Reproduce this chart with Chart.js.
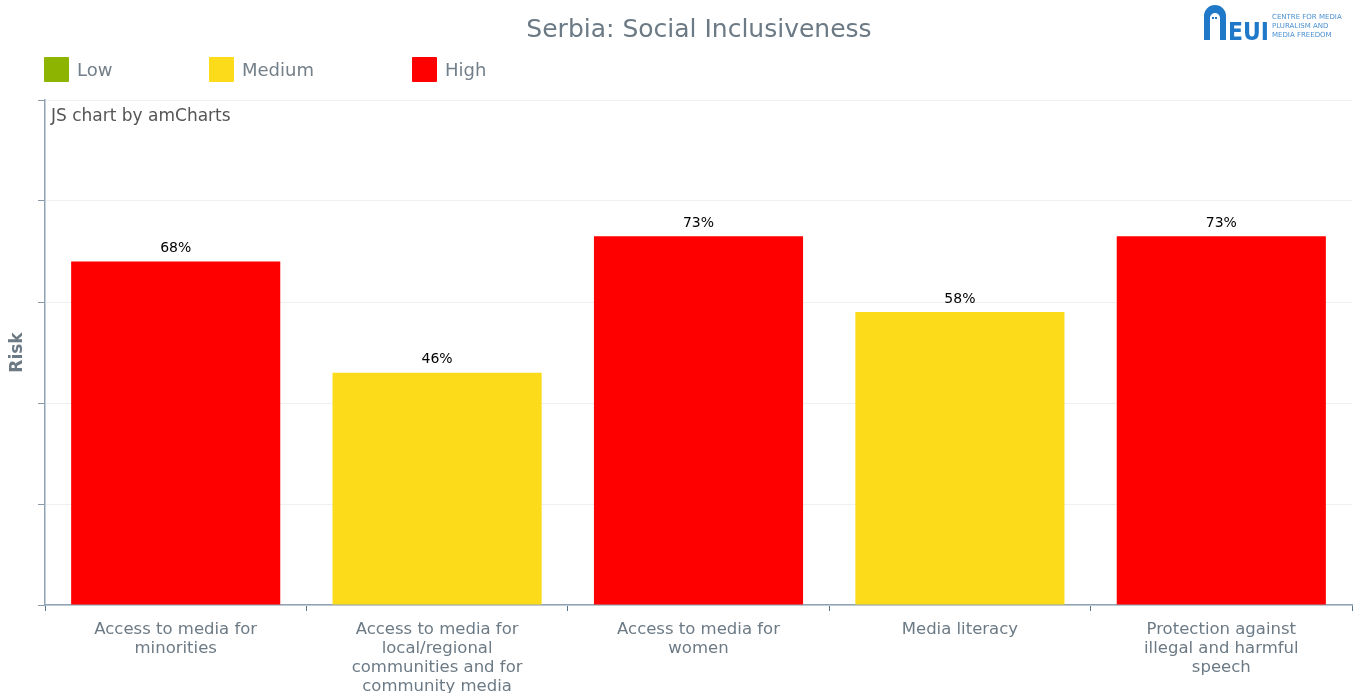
<!DOCTYPE html>
<html>
<head>
<meta charset="utf-8">
<script src="https://cdn.jsdelivr.net/npm/chart.js@4/dist/chart.umd.min.js"></script>
<style>
  html,body{margin:0;padding:0;background:#fff;width:1370px;height:693px;overflow:hidden;font-family:"DejaVu Sans",Verdana,sans-serif;}
  #wrap{position:absolute;left:0;top:0;width:1370px;height:693px;}
  #title{position:absolute;left:0;width:1398px;top:14px;text-align:center;font-size:25px;color:#6c7a85;}
  .leg{position:absolute;top:56px;height:26px;display:flex;align-items:center;font-size:18px;color:#737f89;}
  .leg span.box{display:inline-block;width:25px;height:25px;margin-right:8px;border-radius:1px;}
  #credit{position:absolute;left:51px;top:105px;font-size:17px;color:#555;}
  #logo{position:absolute;left:1202px;top:2px;width:168px;height:42px;}
</style>
</head>
<body>
<div id="wrap">
  <canvas id="c" width="1370" height="693"></canvas>
  <div id="title">Serbia: Social Inclusiveness</div>
  <div id="legend"></div>
  <div id="credit">JS chart by amCharts</div>
  <svg id="logo" viewBox="0 0 168 42" xmlns="http://www.w3.org/2000/svg">
    <path d="M2 38 V14 A11 11 0 0 1 24 14 V38 H18 V16 A5 5 0 0 0 8 16 V38 Z" fill="#1f78c8"/>
    <rect x="10" y="15" width="2" height="2" fill="#1f78c8"/><rect x="13" y="15" width="2" height="2" fill="#1f78c8"/>
    <text x="26" y="38" font-family="DejaVu Sans" font-weight="bold" font-size="25" fill="#1f78c8" textLength="41" lengthAdjust="spacingAndGlyphs">EUI</text>
    <text x="70" y="17" font-family="DejaVu Sans" font-size="7" fill="#4a90d0">CENTRE FOR MEDIA</text>
    <text x="70" y="26" font-family="DejaVu Sans" font-size="7" fill="#4a90d0">PLURALISM AND</text>
    <text x="70" y="35" font-family="DejaVu Sans" font-size="7" fill="#4a90d0">MEDIA FREEDOM</text>
  </svg>
</div>
<script>
const categories = [
  ["Access to media for","minorities"],
  ["Access to media for","local/regional","communities and for","community media"],
  ["Access to media for","women"],
  ["Media literacy"],
  ["Protection against","illegal and harmful","speech"]
];
const riskValues = [68, 46, 73, 58, 73];
const riskLevels = ["High", "Medium", "High", "Medium", "High"];
const legendNames = ["Low", "Medium", "High"];
const legendColors = ["#8cb400", "#fcdb1a", "#ff0000"];
const yTicks = [0, 20, 40, 60, 80, 100];

const levelColor = l => legendColors[legendNames.indexOf(l)];

// HTML legend
const legPos = [44, 209, 412];
const legEl = document.getElementById('legend');
legendNames.forEach((n, i) => {
  const d = document.createElement('div');
  d.className = 'leg';
  d.style.left = legPos[i] + 'px';
  d.innerHTML = '<span class="box" style="background:' + legendColors[i] + '"></span>' + n;
  legEl.appendChild(d);
});

const valueLabels = {
  id: 'valueLabels',
  afterDatasetsDraw(chart) {
    const ctx = chart.ctx;
    const meta = chart.getDatasetMeta(0);
    ctx.save();
    ctx.font = '14px "DejaVu Sans"';
    ctx.fillStyle = '#000';
    ctx.textAlign = 'center';
    ctx.textBaseline = 'bottom';
    meta.data.forEach((bar, i) => {
      ctx.fillText(riskValues[i] + '%', bar.x, bar.y - 6);
    });
    ctx.restore();
  }
};

new Chart(document.getElementById('c'), {
  type: 'bar',
  data: {
    labels: categories,
    datasets: [{
      label: 'Risk',
      data: riskValues,
      backgroundColor: riskLevels.map(levelColor),
      borderWidth: 0,
      categoryPercentage: 1.0,
      barPercentage: 0.8
    }]
  },
  options: {
    responsive: false,
    animation: false,
    devicePixelRatio: 1,
    layout: { padding: { top: 100, right: 18, left: 0, bottom: 0 } },
    plugins: { legend: { display: false }, tooltip: { enabled: false } },
    scales: {
      x: {
        afterFit(s) { s.height = 88; },
        grid: { drawOnChartArea: false, drawTicks: true, tickLength: 6, color: '#5f7488', offset: true },
        border: { display: true, color: '#8fa3b5', width: 1.5 },
        ticks: { color: '#6c7a85', font: { family: 'DejaVu Sans', size: 16.5, lineHeight: 1.15 }, padding: 9, maxRotation: 0, autoSkip: false }
      },
      y: {
        min: 0, max: 100,
        afterFit(s) { s.width = 45; },
        afterBuildTicks(s) { s.ticks = yTicks.map(v => ({ value: v })); },
        grid: { color: '#efefef', drawTicks: true, tickLength: 7, tickColor: '#8a9aa8' },
        border: { display: true, color: '#8fa3b5', width: 1.5 },
        ticks: { display: false },
        title: { display: true, text: 'Risk', color: '#6c7a85', font: { family: 'DejaVu Sans', size: 17, weight: 'bold' }, padding: { top: 7, bottom: 0 } }
      }
    }
  },
  plugins: [valueLabels]
});
</script>
</body>
</html>
